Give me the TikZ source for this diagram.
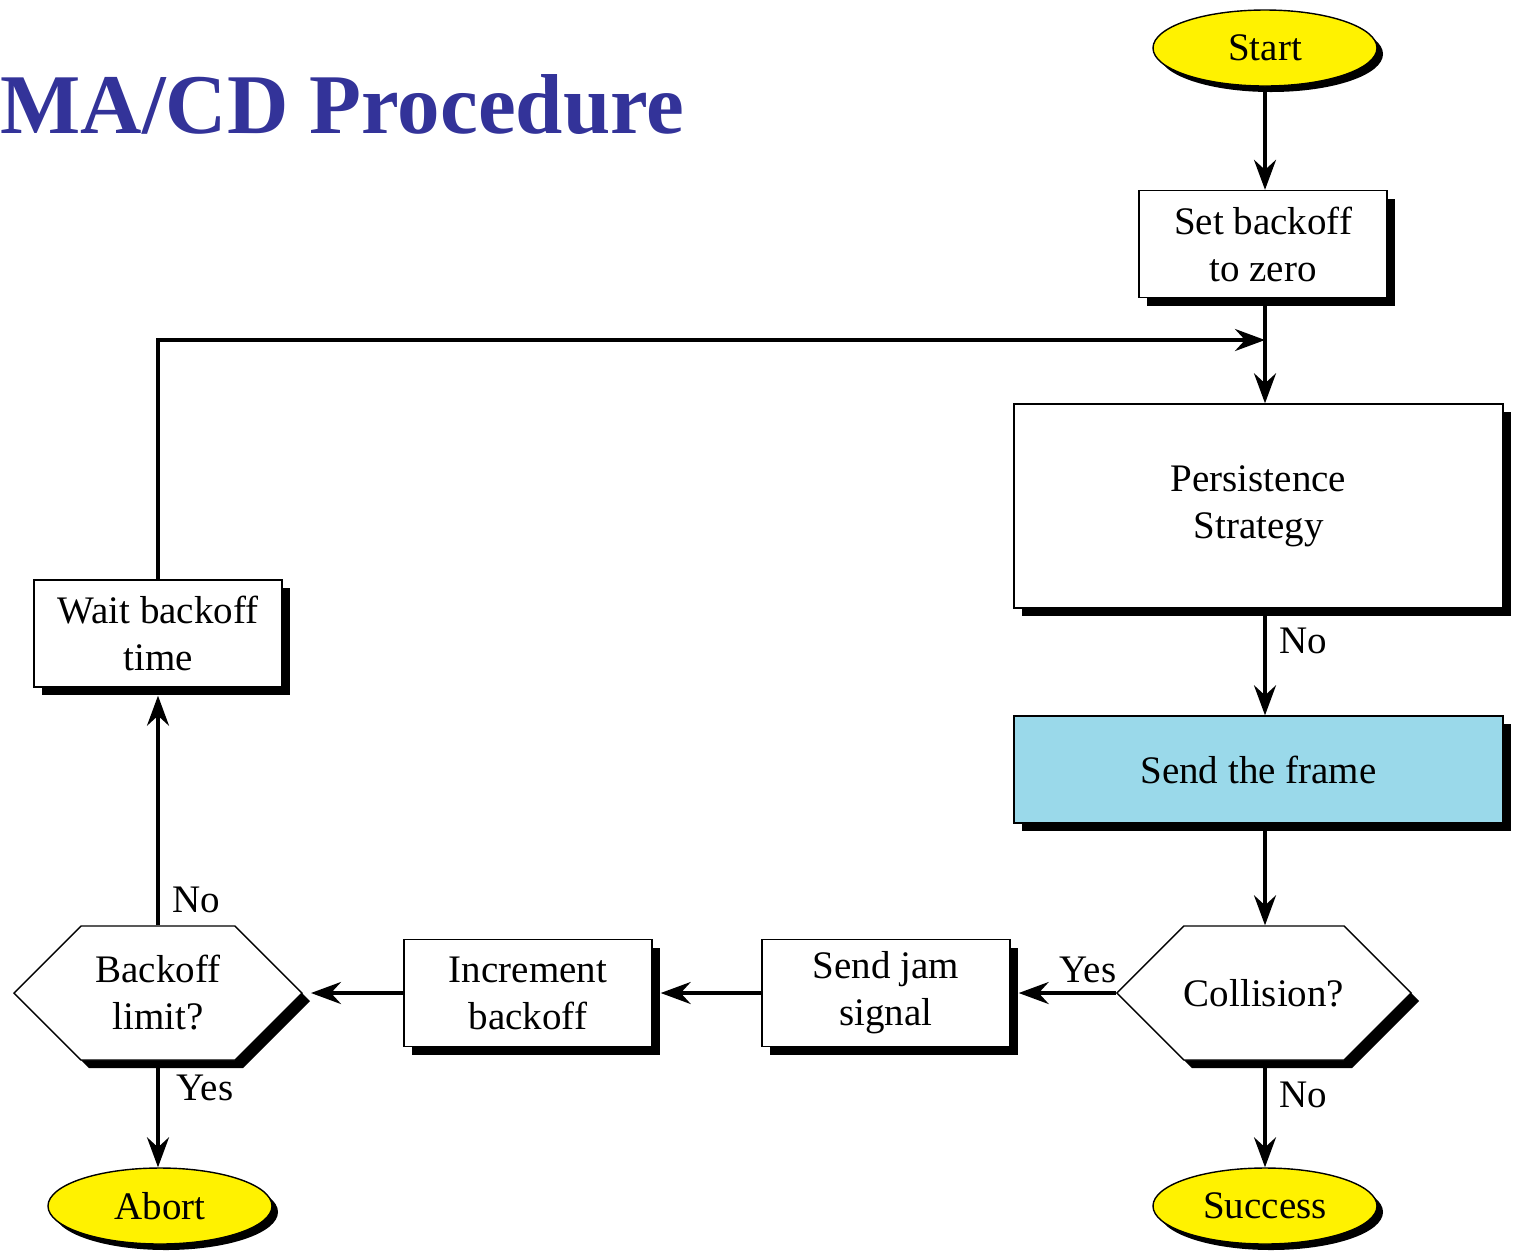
\documentclass[tikz,border=0pt]{standalone}
\usepackage{fontspec}
\setmainfont{Liberation Serif}
\usetikzlibrary{arrows.meta,shapes.geometric,shapes.symbols,shadows}
\definecolor{titleblue}{RGB}{51,51,153}
\definecolor{framefill}{RGB}{154,217,234}
\begin{document}
\begin{tikzpicture}[x=0.5pt,y=-0.5pt,
  every node/.style={font=\fontsize{19.5}{23.5}\selectfont, align=center, inner sep=0pt},
  boxshadow/.style={general shadow={fill=black, shadow xshift=4pt, shadow yshift=-4pt}},
  ovalshadow/.style={general shadow={fill=black, shadow xshift=3pt, shadow yshift=-3pt}},
  procbox/.style={draw=black, line width=0.7pt, fill=white, minimum width=124pt, minimum height=53.5pt, boxshadow},
  bigbox/.style={procbox, minimum width=244.5pt},
  terminal/.style={ellipse, draw=black, line width=0.7pt, fill=yellow, minimum width=112pt, minimum height=38pt, ovalshadow},
  decision/.style={signal, signal to=west and east, signal pointer angle=90, draw=black, line width=0.7pt, fill=white, minimum width=144pt, minimum height=67pt, boxshadow},
  conn/.style={line width=1.8pt, -{Stealth[length=15pt,width=11pt,inset=5pt]}}
]
\useasboundingbox (0,0) rectangle (1521,1250);

% heading
\node[anchor=base west, font=\fontsize{42.5}{50}\selectfont\bfseries, text=titleblue] (title) at (0,133) {MA/CD Procedure};

% right column
\node[terminal] (start) at (1265,48) {Start};
\node[procbox] (setb) at (1263,244) {Set backoff\\to zero};
\node[bigbox, minimum height=102pt] (pers) at (1258.5,506) {Persistence\\Strategy};
\node[bigbox, fill=framefill] (send) at (1258.5,769.5) {Send the frame};
\node[decision] (coll) at (1264,993) {Collision?};
\node[terminal] (success) at (1265,1206) {Success};

% bottom row
\node[procbox] (jam) at (886,993) {Send jam\\signal};
\node[procbox] (inc) at (528,993) {Increment\\backoff};
\node[decision] (limit) at (158,993) {Backoff\\limit?};

% left column
\node[procbox] (wait) at (158,633.5) {Wait backoff\\time};
\node[terminal] (abort) at (160,1206) {Abort};

% loop-back junction
\coordinate (j) at (1265,340);

% connectors
\draw[conn] (start.south) -- (start.south |- setb.north);
\draw[conn] (j |- setb.south) -- (j |- pers.north);
\draw[conn] (j |- pers.south) -- (j |- send.north);
\draw[conn] (j |- send.south) -- (j |- coll.north);
\draw[conn] (j |- coll.south) -- (j |- success.north);
\draw[conn] (coll.west) -- ([xshift=4pt]jam.east);
\draw[conn] (jam.west) -- ([xshift=4pt]inc.east);
\draw[conn] (inc.west) -- ([xshift=4pt]limit.east);
\draw[conn] (limit.north) -- ([yshift=-4pt]wait.south);
\draw[conn] (limit.south) -- (limit.south |- abort.north);
\draw[conn] (wait.north) -- (wait.north |- j) -- (j);

% branch labels
\node (no1) at (1303,641) {No};
\node (yes1) at (1088,970) {Yes};
\node (no2) at (196,900) {No};
\node (yes2) at (205,1088) {Yes};
\node (no3) at (1303,1095) {No};
\end{tikzpicture}
\end{document}
